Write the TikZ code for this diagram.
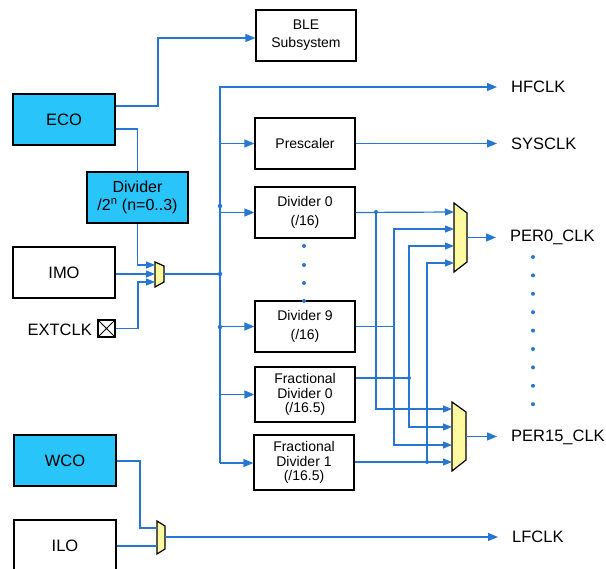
\documentclass[tikz,border=0pt]{standalone}
\usepackage{fontspec}
\setmainfont{Liberation Sans}
\usetikzlibrary{arrows.meta}
\definecolor{wireblue}{RGB}{38,118,210}
\definecolor{oscfill}{RGB}{41,196,250}
\definecolor{muxfill}{RGB}{255,250,160}
\begin{document}
\begin{tikzpicture}[x=1pt,y=-1pt,
  box/.style={draw=black,line width=1.2pt,minimum width=100pt,minimum height=51pt,inner sep=1pt,align=center,font=\fontsize{14}{18}\selectfont},
  bigbox/.style={box,minimum width=102pt,font=\fontsize{16.5}{20}\selectfont},
  osc/.style={bigbox,fill=oscfill},
  wire/.style={draw=wireblue,line width=1.2pt},
  arr/.style={wire,-{Triangle[length=10pt,width=8pt]}},
  marr/.style={wire,-{Triangle[length=9pt,width=7pt]}},
  darr/.style={wire,{Triangle[length=9pt,width=7pt]}-{Triangle[length=9pt,width=7pt]}},
  mux/.style={draw=black,line width=1.2pt,fill=muxfill,line join=miter},
  jdot/.style={circle,fill=wireblue,inner sep=0pt,minimum size=4.5pt},
  sdot/.style={circle,fill=wireblue,inner sep=0pt,minimum size=4pt},
  sig/.style={anchor=west,inner sep=0pt,font=\fontsize{16.5}{20}\selectfont},
]
\useasboundingbox (0,0) rectangle (606,569);

% boxes
\node[box] (ble) at (306,35.5) {BLE\\Subsystem};
\node[osc] (eco) at (64,119.5) {ECO};
\node[osc,minimum width=101pt,font=\fontsize{16}{18}\selectfont] (div2) at (137.5,197.5) {Divider\\/2\textsuperscript{n} (n=0..3)};
\node[bigbox] (imo) at (64,272.5) {IMO};
\node[osc] (wco) at (65,460.5) {WCO};
\node[bigbox] (ilo) at (65,545.5) {ILO};
\node[box] (pre) at (305,143.5) {Prescaler};
\node[box,font=\fontsize{14}{19}\selectfont] (d0) at (305,212.5) {Divider 0\\(/16)};
\node[box,font=\fontsize{14}{19}\selectfont] (d9) at (305,326.5) {Divider 9\\(/16)};
\node[box,minimum height=55pt,font=\fontsize{14}{14.5}\selectfont] (fd0) at (305,394.5) {Fractional\\Divider 0\\(/16.5)};
\node[box,minimum height=55pt,font=\fontsize{14}{14.5}\selectfont] (fd1) at (304,462.5) {Fractional\\Divider 1\\(/16.5)};

% EXTCLK pin
\node[draw=black,line width=1.2pt,minimum size=17pt,inner sep=0pt] (ext) at (106.5,328.5) {};
\draw[line width=1pt] (ext.north west) -- (ext.south east) (ext.north east) -- (ext.south west);
\node[anchor=east,inner sep=0pt,font=\fontsize{16.5}{20}\selectfont] (extlbl) at (92,330) {EXTCLK};

% output labels
\node[sig] (hf) at (511,87) {HFCLK};
\node[sig] (sys) at (511,144) {SYSCLK};
\node[sig] (p0) at (510,237.5) {PER0\_CLK};
\node[sig] (p15) at (511,437) {PER15\_CLK};
\node[sig] (lf) at (512,537) {LFCLK};

% muxes
\draw[mux] (155,262) -- (164,266) -- (164,282) -- (155,287) -- cycle;
\coordinate (m1a) at (155,265);
\coordinate (m1b) at (155,274);
\coordinate (m1c) at (155,282);
\coordinate (m1o) at (164,274);

\draw[mux] (157,521) -- (165,526) -- (165,549) -- (157,554) -- cycle;
\coordinate (lfa) at (157,528);
\coordinate (lfb) at (157,546);
\coordinate (lfo) at (165,537);

\draw[mux] (454,203) -- (467,213) -- (467,262) -- (454,272) -- cycle;
\coordinate (p0a) at (454,212);
\coordinate (p0b) at (454,229);
\coordinate (p0c) at (454,246);
\coordinate (p0d) at (454,263);
\coordinate (p0o) at (467,237.5);

\draw[mux] (452,402) -- (466,412) -- (466,460) -- (452,471) -- cycle;
\coordinate (p15a) at (452,409);
\coordinate (p15b) at (452,427);
\coordinate (p15c) at (452,445);
\coordinate (p15d) at (452,462);
\coordinate (p15o) at (466,436.5);

% ECO / divider / mux1
\draw[arr] (eco.east |- 0,106) -| (158,38) -- (ble.west |- 0,38);
\draw[wire] (eco.east |- 0,129) -| (div2.north);
\draw[marr] (div2.south) |- (m1a);
\draw[marr] (imo.east |- m1b) -- (m1b);
\draw[marr] (ext.east) -| (138,305) |- (m1c);

% bus
\coordinate (btop) at (220,87);
\coordinate (bbot) at (220,463);
\draw[wire] (m1o) -- (220,274);
\draw[arr] (bbot) -- (btop) -- ([xshift=-14pt]hf.west);
\draw[arr] (pre.west -| btop) -- (pre.west);
\draw[arr] (d0.west -| btop) -- (d0.west);
\draw[arr] (d9.west -| btop) -- (d9.west);
\draw[arr] (fd0.west -| btop) -- (fd0.west);
\draw[arr] (bbot) -- (fd1.west |- bbot);
\node[jdot] (j1) at (220,206) {};
\node[jdot] (j2) at (220,274) {};
\node[jdot] (j3) at (220,327) {};

% dots between dividers
\foreach \yy in {246,265,283,301} \node[sdot] at (304,\yy) {};

% prescaler out
\draw[arr] (pre.east) -- ([xshift=-14pt]sys.west |- pre.east);

% divider network
\draw[marr] (d0.east) -- (p0a);
\node[sdot] (j4) at (376,212) {};
\draw[marr] (376,212) |- (p15a);
\draw[darr] (p0b) -| (394,445) -- (p15c);
\draw[wire] (d9.east) -- (394,326.5);
\draw[darr] (p0c) -| (409,427) -- (p15b);
\draw[wire] (fd0.east |- 0,378) -- (409,378);
\node[sdot] (j5) at (409,378) {};
\draw[marr] (427,462) |- (p0d);
\draw[marr] (fd1.east |- p15d) -- (p15d);
\node[sdot] (j6) at (427,462) {};

% mux outputs
\draw[arr] (p0o) -- ([xshift=-14pt]p0.west);
\draw[arr] (p15o) -- ([xshift=-14pt]p15.west |- p15o);
\foreach \i in {0,...,8} \node[sdot] at (533,257+\i*18.4) {};

% LF mux
\draw[wire] (wco.east |- 0,461) -| (140,500) |- (lfa);
\draw[wire] (ilo.east |- lfb) -- (lfb);
\draw[arr] (lfo) -- ([xshift=-14pt]lf.west |- lfo);
\end{tikzpicture}
\end{document}
